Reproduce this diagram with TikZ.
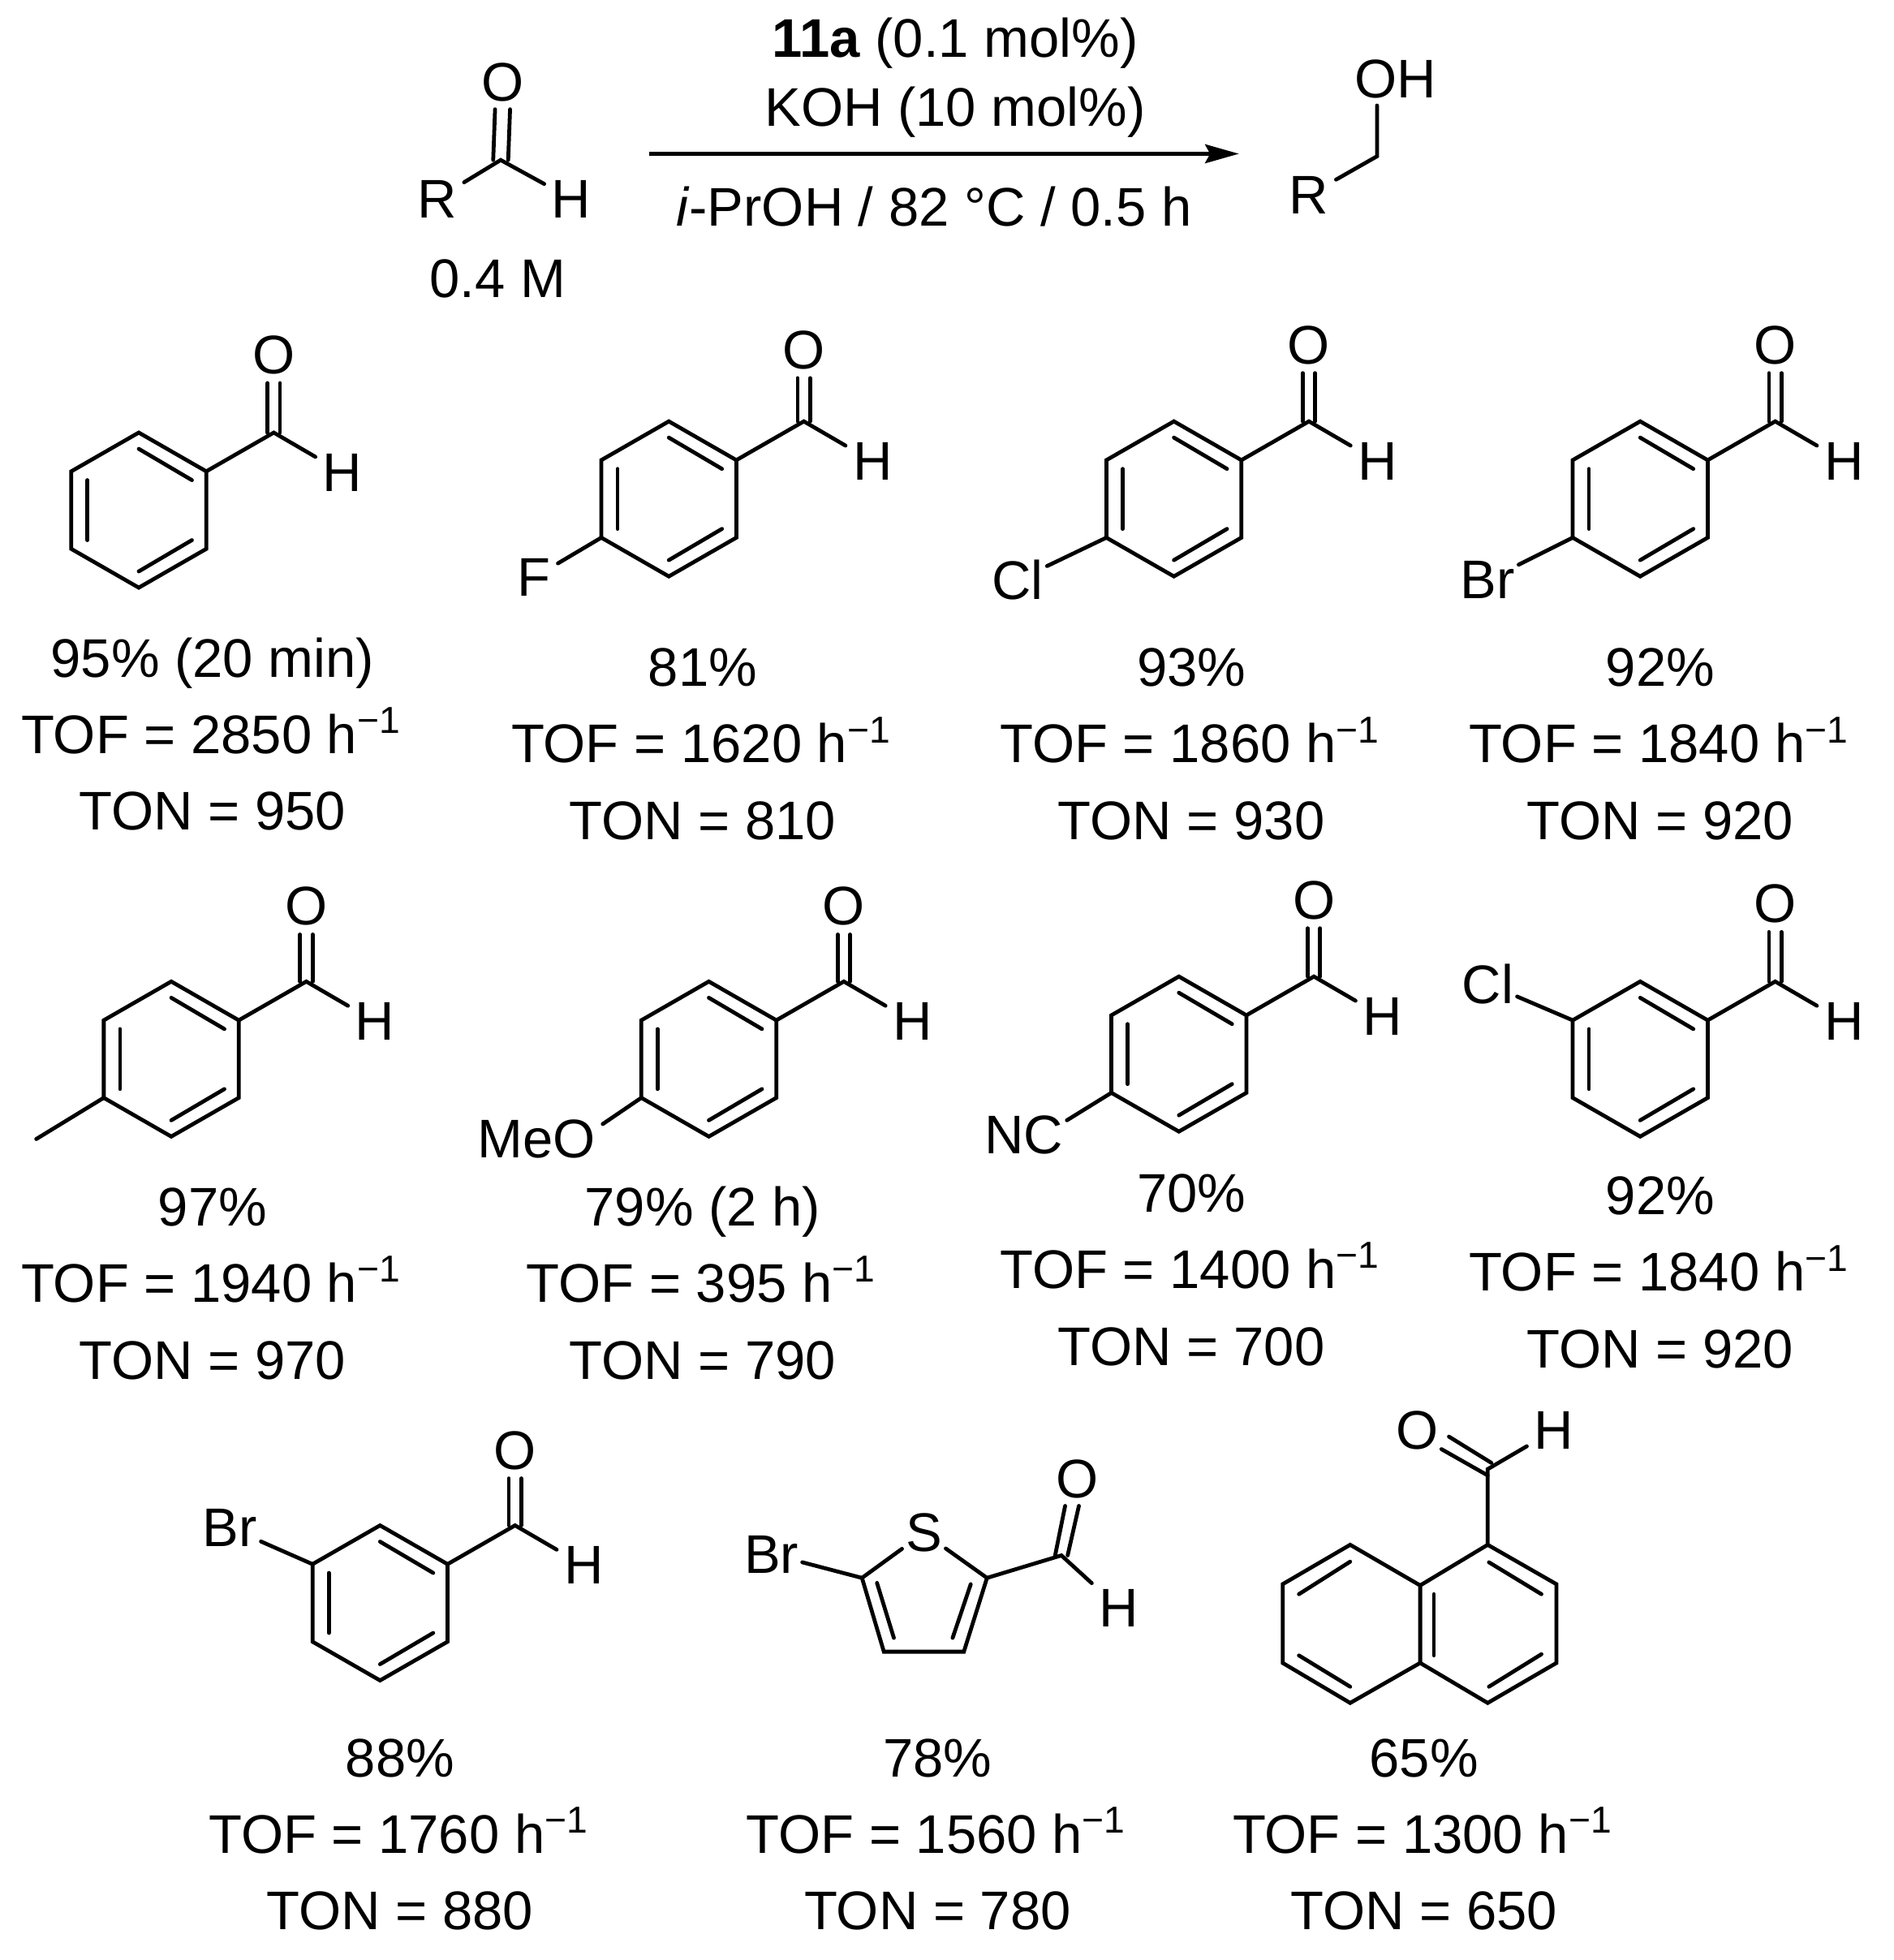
\documentclass[tikz,border=0pt]{standalone}
\usepackage{fontspec}
\setmainfont{Liberation Sans}
\usetikzlibrary{arrows.meta,calc}
\tikzset{
  bond/.style={line width=3.1pt,line cap=round,line join=miter,black},
  atom/.style={inner sep=6pt,outer sep=0pt,font=\fontsize{43.5}{50}\selectfont},
  hal/.style={atom,inner sep=3pt},
  txt/.style={inner sep=0pt,anchor=base,font=\fontsize{43.5}{50}\selectfont},
}
\newcommand{\inv}{\raisebox{16pt}{\fontsize{30}{32}\selectfont −1}}
% ring with formyl group: [O dy], name, x, y of top vertex
\newcommand{\ArCHO}[4][0]{%
  \begin{scope}[shift={(#3,#4)}]
    \coordinate (#2a) at (0,0);
    \coordinate (#2b) at (54,31);
    \coordinate (#2c) at (54,93);
    \coordinate (#2d) at (0,124);
    \coordinate (#2e) at (-54,93);
    \coordinate (#2f) at (-54,31);
    \coordinate (#2ia) at (0,13);
    \coordinate (#2ib) at (42.5,38);
    \coordinate (#2ic) at (42.5,86);
    \coordinate (#2id) at (0,111);
    \coordinate (#2ie) at (-41,86);
    \coordinate (#2if) at (-41,38);
    \coordinate (#2C) at (108,0);
    \node[atom] (#2O) at (108,{-62+#1}) {O};
    \node[atom] (#2H) at (163,32) {H};
  \end{scope}
  \draw[bond] (#2a) -- (#2b) -- (#2c) -- (#2d) -- (#2e) -- (#2f) -- cycle;
  \draw[bond] (#2ia) -- (#2ib);
  \draw[bond] (#2ic) -- (#2id);
  \draw[bond] (#2ie) -- (#2if);
  \draw[bond] (#2b) -- (#2C) -- (#2H);
  \draw[bond] ([xshift=-5pt]#2C) -- ([xshift=-5pt,yshift=-1pt]#2O.south);
  \draw[bond] ([xshift=5pt]#2C) -- ([xshift=5pt,yshift=-1pt]#2O.south);
}
% yield block: name, x, y of first line centre, three lines
\newcommand{\Yld}[6]{%
  \node[txt] (#1l) at (#2,{#3+15.5}) {#4};
  \node[txt] (#1m) at ({#2-1.5},{#3+76.5}) {TOF = #5 h\inv};
  \node[txt] (#1n) at (#2,{#3+138}) {TON = #6};
}
\begin{document}
\begin{tikzpicture}[x=1pt,y=-1pt]
\useasboundingbox (0,0) rectangle (1515,1567.6);
% --- reaction scheme
\coordinate (rC) at (400.5,128);
\node[atom] (rO) at (402,66) {O};
\node[atom] (rR) at (349.5,159) {R};
\node[atom] (rH) at (457,159) {H};
\draw[bond] (rR) -- (rC) -- (rH);
\draw[bond] ([xshift=-6pt]rC) -- ([xshift=-6pt]rO.south);
\draw[bond] ([xshift=6pt]rC) -- ([xshift=6pt]rO.south);
\node[txt] (conc) at (398,238) {0.4 M};
\coordinate (arrS) at (519,123);
\coordinate (arrE) at (991,123);
\draw[line width=3.1pt,-{Stealth[length=27pt,width=15pt,inset=4pt]}] (arrS) -- (arrE);
\node[txt] (cat) at (764,46) {\textbf{11a} (0.1 mol\%)};
\node[txt] (base) at (764,101) {KOH (10 mol\%)};
\node[txt] (solv) at (747,181) {\textit{i}-PrOH / 82 °C / 0.5 h};
\coordinate (pC) at (1101.5,125);
\node[atom] (pO) at (1116,63) {OH};
\node[atom] (pR) at (1047,156) {R};
\draw[bond] (pR) -- (pC) -- (pC |- pO.south);
% --- row 1
\ArCHO{A}{111}{346}
\Yld{A}{170}{526}{95\% (20 min)}{2850}{950}
\ArCHO[5]{B}{535}{337}
\node[atom] (Bx) at (427,462) {F};
\draw[bond] (Be) -- (Bx);
\Yld{B}{562}{533.5}{81\%}{1620}{810}
\ArCHO[1]{C}{939}{337}
\node[hal] (Cx) at (814,464) {Cl};
\draw[bond] (Ce) -- (Cx);
\Yld{C}{953}{533.5}{93\%}{1860}{930}
\ArCHO[1]{D}{1312}{337}
\node[hal] (Dx) at (1190,464) {Br};
\draw[bond] (De) -- (Dx);
\Yld{D}{1328}{533.5}{92\%}{1840}{920}
% --- row 2
\ArCHO[2]{E}{137}{785}
\coordinate (Ex) at (29,911);
\draw[bond] (Ee) -- (Ex);
\Yld{E}{170}{965}{97\%}{1940}{970}
\ArCHO[2]{F}{567}{785}
\node[atom] (Fx) at (429,911) {MeO};
\draw[bond] (Fe) -- ([yshift=12pt]Fx.east);
\Yld{F}{562}{965}{79\% (2 h)}{395}{790}
\ArCHO[1]{G}{943}{781}
\node[atom] (Gx) at (819,908) {NC};
\draw[bond] (Ge) -- ([yshift=12pt,xshift=-3pt]Gx.east);
\Yld{G}{953}{954}{70\%}{1400}{700}
\ArCHO{H}{1312}{785}
\node[hal] (Hx) at (1190,787) {Cl};
\draw[bond] (Hf) -- (Hx);
\Yld{H}{1328}{956}{92\%}{1840}{920}
% --- row 3
\ArCHO[2]{I}{304}{1220}
\node[hal] (Ix) at (184,1222) {Br};
\draw[bond] (If) -- (Ix);
\Yld{I}{320}{1405.5}{88\%}{1760}{880}
% thiophene
\coordinate (T5) at (689.5,1262);
\coordinate (T4) at (707,1321);
\coordinate (T3) at (771,1321);
\coordinate (T2) at (789.5,1262);
\coordinate (T5i) at (701.5,1266);
\coordinate (T4i) at (715,1310);
\coordinate (T2i) at (776.5,1267);
\coordinate (T3i) at (762,1310);
\coordinate (TC) at (849,1244);
\node[atom,inner sep=3pt] (TS) at (739,1226) {S};
\node[hal] (TBr) at (617,1243) {Br};
\node[atom] (TO) at (862,1183) {O};
\node[atom] (TH) at (895,1286) {H};
\draw[bond] (TS) -- (T5) -- (T4) -- (T3) -- (T2) -- (TS);
\draw[bond] (T5i) -- (T4i);
\draw[bond] (T2i) -- (T3i);
\draw[bond] (T5) -- (TBr);
\draw[bond] (T2) -- (TC) -- (TH);
\draw[bond] ([xshift=-5pt]TC) -- ([xshift=-10pt]TO.south);
\draw[bond] ([xshift=5pt]TC) -- ([xshift=1pt]TO.south);
\Yld{T}{750}{1405.5}{78\%}{1560}{780}
% naphthalene
\coordinate (N1) at (1080,1235.5);
\coordinate (N2) at (1026,1267);
\coordinate (N3) at (1026,1330);
\coordinate (N4) at (1080,1362);
\coordinate (N5) at (1136,1330);
\coordinate (N6) at (1136,1268);
\coordinate (N7) at (1190,1235.5);
\coordinate (N8) at (1245,1267);
\coordinate (N9) at (1245,1330);
\coordinate (N10) at (1190,1362);
\coordinate (NC) at (1190,1175);
\coordinate (Ni1) at (1080,1249);
\coordinate (Ni2) at (1039,1275);
\coordinate (Ni3) at (1039,1324);
\coordinate (Ni4) at (1080,1349);
\coordinate (Ni5) at (1147,1275);
\coordinate (Ni6) at (1147,1324);
\coordinate (Ni7) at (1191,1249.5);
\coordinate (Ni8) at (1233,1275);
\coordinate (Ni9) at (1233,1323);
\coordinate (Ni10) at (1191,1349);
\coordinate (NdA) at (1193,1170);
\coordinate (NdB) at (1159,1149);
\coordinate (NdC) at (1190,1180);
\coordinate (NdD) at (1153,1159);
\node[atom] (NO) at (1134,1144) {O};
\node[atom] (NH) at (1243,1144) {H};
\draw[bond] (N1) -- (N2) -- (N3) -- (N4) -- (N5) -- (N6) -- cycle;
\draw[bond] (N6) -- (N7) -- (N8) -- (N9) -- (N10) -- (N5);
\draw[bond] (Ni1) -- (Ni2);
\draw[bond] (Ni3) -- (Ni4);
\draw[bond] (Ni5) -- (Ni6);
\draw[bond] (Ni7) -- (Ni8);
\draw[bond] (Ni9) -- (Ni10);
\draw[bond] (N7) -- (NC) -- (NH);
\draw[bond] (NdA) -- (NdB);
\draw[bond] (NdC) -- (NdD);
\Yld{N}{1139}{1405.5}{65\%}{1300}{650}
\end{tikzpicture}
\end{document}
